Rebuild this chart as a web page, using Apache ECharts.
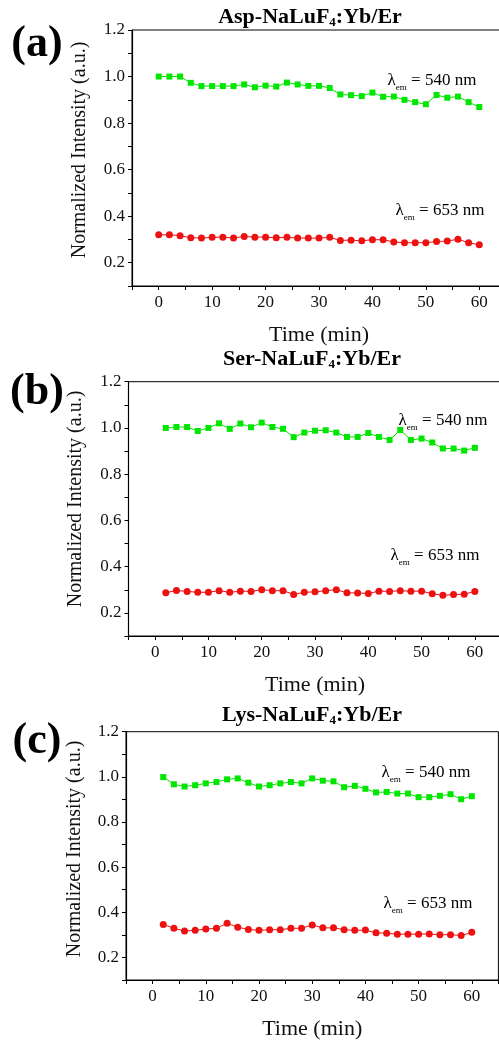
<!DOCTYPE html>
<html><head><meta charset="utf-8">
<script src="https://cdn.jsdelivr.net/npm/echarts@6/dist/echarts.min.js"></script>
<style>html,body{margin:0;padding:0;background:#fff;overflow:hidden;width:499px;height:1041px}#c{width:530px;height:1041px}</style>
</head><body><div id="c"></div>
<script>
const timeA = [0,2,4,6,8,10,12,14,16,18,20,22,24,26,28,30,32,34,36,38,40,42,44,46,48,50,52,54,56,58,60];
const timeBC = [2,4,6,8,10,12,14,16,18,20,22,24,26,28,30,32,34,36,38,40,42,44,46,48,50,52,54,56,58,60];

const aspGreen = [1.0,1.0,1.0,0.973,0.959,0.959,0.959,0.959,0.966,0.954,0.961,0.957,0.974,0.966,0.96,0.96,0.951,0.923,0.92,0.916,0.931,0.913,0.914,0.9,0.89,0.881,0.921,0.909,0.914,0.89,0.869];
const aspRed = [0.32,0.32,0.316,0.307,0.306,0.309,0.31,0.306,0.313,0.31,0.31,0.307,0.309,0.306,0.306,0.306,0.309,0.296,0.297,0.294,0.299,0.299,0.289,0.286,0.286,0.286,0.291,0.293,0.301,0.286,0.277];

const serGreen = [1.0,1.004,1.004,0.987,1.0,1.02,0.996,1.019,1.003,1.023,1.004,0.996,0.96,0.98,0.988,0.99,0.98,0.961,0.961,0.978,0.961,0.948,0.991,0.948,0.954,0.937,0.911,0.911,0.902,0.914];
const serRed = [0.287,0.297,0.293,0.289,0.289,0.296,0.289,0.294,0.293,0.3,0.296,0.296,0.28,0.289,0.291,0.296,0.3,0.287,0.286,0.284,0.294,0.293,0.296,0.294,0.294,0.283,0.276,0.279,0.281,0.293];

const lysGreen = [0.999,0.967,0.957,0.963,0.971,0.977,0.989,0.993,0.974,0.957,0.963,0.971,0.977,0.971,0.993,0.983,0.98,0.954,0.96,0.947,0.931,0.933,0.926,0.926,0.91,0.91,0.916,0.923,0.901,0.914];
const lysRed = [0.346,0.329,0.317,0.32,0.326,0.329,0.351,0.334,0.324,0.32,0.323,0.323,0.329,0.329,0.344,0.331,0.331,0.323,0.32,0.321,0.309,0.307,0.303,0.303,0.303,0.304,0.3,0.301,0.297,0.311];

const yTickLabels = [0.2,0.4,0.6,0.8,1.0,1.2];
const xTickLabels = [0,10,20,30,40,50,60];
const panelLabels = ['(a)','(b)','(c)'];
const samplePrefixes = ['Asp','Ser','Lys'];
const greenLabel = '540 nm';
const redLabel = '653 nm';
const yName = 'Normalized Intensity (a.u.)';
const xName = 'Time (min)';

const panels = [
  {times: timeA, green: aspGreen, red: aspRed, grid:{left:132, top:30, width:374, height:256},
   title:[310,17], label:[37,45], yname:[80,150], gl:[432,81], rl:[440,211]},
  {times: timeBC, green: serGreen, red: serRed, grid:{left:128.5, top:381.7, width:373, height:254.3},
   title:[312,359], label:[37,393], yname:[76,499], gl:[443,421], rl:[435,556]},
  {times: timeBC, green: lysGreen, red: lysRed, grid:{left:126, top:731.7, width:372.4, height:255.6},
   title:[312,715], label:[37,742], yname:[75,849], gl:[426,773], rl:[428,904]}
];

const FONT = 'Liberation Serif';
const grids = [], xAxes = [], yAxes = [], series = [], graphics = [];
const GREEN = '#00e600', RED = '#ee1111';

panels.forEach((p, i) => {
  grids.push(Object.assign({show:true, borderColor:'#000', borderWidth:1, backgroundColor:'transparent'}, p.grid));
  xAxes.push({
    gridIndex:i, type:'value', min:-5, max:65, interval:5,
    axisLine:{onZero:false, lineStyle:{color:'#000', width:1.2}},
    axisTick:{length:4, lineStyle:{color:'#000'}},
    splitLine:{show:false},
    axisLabel:{customValues:xTickLabels, fontFamily:FONT, fontSize:17, color:'#111', margin:8},
    name: xName, nameLocation:'middle', nameGap:38,
    nameTextStyle:{fontFamily:FONT, fontSize:22, color:'#111'}
  });
  yAxes.push({
    gridIndex:i, type:'value', min:0.1, max:1.2, interval:0.1,
    axisLine:{show:true, onZero:false, lineStyle:{color:'#000', width:1.2}},
    axisTick:{show:true, length:4, lineStyle:{color:'#000'}},
    splitLine:{show:false},
    axisLabel:{customValues:yTickLabels, formatter:v=>Number(v).toFixed(1), fontFamily:FONT, fontSize:17, color:'#111', margin:7}
  });
  series.push({
    type:'line', xAxisIndex:i, yAxisIndex:i, symbol:'rect', symbolSize:6,
    itemStyle:{color:GREEN}, lineStyle:{color:GREEN, width:1},
    data: p.times.map((t,k)=>[t,p.green[k]]), animation:false
  });
  series.push({
    type:'line', xAxisIndex:i, yAxisIndex:i, symbol:'circle', symbolSize:7,
    itemStyle:{color:RED}, lineStyle:{color:RED, width:1},
    data: p.times.map((t,k)=>[t,p.red[k]]), animation:false
  });
  graphics.push({
    type:'text', x:p.title[0], y:p.title[1],
    style:{text:'{t|'+samplePrefixes[i]+'-NaLuF}{s|4}{t|:Yb/Er}', align:'center', verticalAlign:'middle',
      rich:{t:{fontFamily:FONT, fontWeight:'bold', fontSize:22, color:'#111', lineHeight:24},
            s:{fontFamily:FONT, fontWeight:'bold', fontSize:13, color:'#111', lineHeight:24, verticalAlign:'bottom'}}}
  });
  graphics.push({
    type:'text', x:p.label[0], y:p.label[1],
    style:{text:panelLabels[i], align:'center', verticalAlign:'middle', font:'bold 44px "Liberation Serif"', fill:'#000'}
  });
  graphics.push({
    type:'text', x:p.yname[0], y:p.yname[1], rotation:Math.PI/2,
    style:{text:yName, align:'center', verticalAlign:'middle', font:'20px "Liberation Serif"', fill:'#111'}
  });
  [[p.gl, greenLabel],[p.rl, redLabel]].forEach(([pos, txt]) => {
    graphics.push({
      type:'text', x:pos[0], y:pos[1],
      style:{text:'{l|λ}{e|em}{l| = '+txt+'}', align:'center', verticalAlign:'middle',
        rich:{l:{fontFamily:FONT, fontSize:17, color:'#111', lineHeight:22},
              e:{fontFamily:FONT, fontSize:9, color:'#111', lineHeight:22, verticalAlign:'bottom'}}}
    });
  });
});

const chart = echarts.init(document.getElementById('c'), null, {renderer:'canvas'});
chart.setOption({animation:false, backgroundColor:'#fff', grid:grids, xAxis:xAxes, yAxis:yAxes, series:series, graphic:graphics});
</script>
</body></html>
